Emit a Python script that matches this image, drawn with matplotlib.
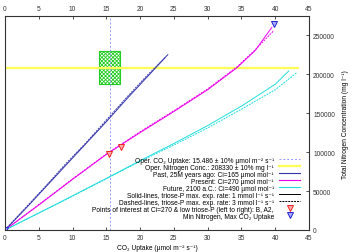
import numpy as np
import matplotlib.pyplot as plt
from matplotlib.patches import Rectangle
from matplotlib.lines import Line2D

plt.rcParams['font.family'] = ['Liberation Sans', 'DejaVu Sans']
plt.rcParams['hatch.linewidth'] = 0.6

# operating point
oper_co2 = 15.486
oper_n = 208330

# Past, Ci=165 (blue)
past_x = [0, 3, 6, 9, 12, 15, 18, 21, 24.1]
past_y = [0, 27000, 55000, 83000, 111000, 139000, 168000, 196000, 225000]
past_x_d = [0, 3, 6, 9, 12, 15, 18, 21, 23.8]
past_y_d = [0, 28000, 56000, 85000, 112000, 141000, 170000, 198000, 222000]

# Present, Ci=270 (magenta)
pres_x = [0, 5, 10, 15, 20, 25, 30, 34.3, 37, 39.5]
pres_y = [0, 32000, 65000, 97000, 125000, 152000, 180000, 208000, 230000, 260000]
pres_x_d = [0, 5, 10, 15, 20, 25, 30, 34.3, 37, 39.8]
pres_y_d = [0, 32500, 65500, 97500, 126000, 153000, 181000, 209000, 231000, 256000]

# Future, Ci=490 (cyan)
fut_x = [0, 8, 15.4, 20, 25, 30, 35, 40, 42.0]
fut_y = [0, 35000, 68000, 89000, 111000, 134000, 159000, 187000, 204000]
fut_x_d = [0, 8, 15.4, 20, 25, 30, 35, 40, 43.2]
fut_y_d = [0, 34500, 67500, 88000, 109000, 131000, 155000, 180000, 202000]

# points of interest
poi_x = [15.4, 17.1]
poi_y = [97000, 107000]
ext_x = [0, 39.8]
ext_y = [0, 264000]

fig = plt.figure(figsize=(3.52, 2.53), dpi=100)
ax = fig.add_axes([0.0142, 0.087, 0.8637, 0.844])

ax.axvline(oper_co2, color='#9999ff', lw=0.7, ls=(0, (2, 2)))
ax.plot([0, 43.3], [oper_n, oper_n], color='#ffff55', lw=1.6)
ax.add_patch(Rectangle((oper_co2 * 0.9, oper_n * 0.9), oper_co2 * 0.2, oper_n * 0.2,
                       facecolor='none', edgecolor='#22cc22', hatch='x' * 9, lw=0.8))

ax.plot(past_x, past_y, color='#3333aa', lw=0.7)
ax.plot(past_x_d, past_y_d, color='#3333aa', lw=0.7, ls=(0, (2, 1)))
ax.plot(pres_x, pres_y, color='#ee00ee', lw=0.7)
ax.plot(pres_x_d, pres_y_d, color='#ee00ee', lw=0.7, ls=(0, (2, 1)))
ax.plot(fut_x, fut_y, color='#22dddd', lw=0.7)
ax.plot(fut_x_d, fut_y_d, color='#22dddd', lw=0.7, ls=(0, (2, 1)))

ax.plot(poi_x, poi_y, 'v', ms=4, mfc='#ffaaaa', mec='#ee2222', mew=0.7)
ax.plot(ext_x, ext_y, 'v', ms=4, mfc='#aaaaff', mec='#2222cc', mew=0.7)

ax.set_xlim(0, 45)
ax.set_ylim(0, 274000)
ax.set_xticks(range(0, 46, 5))
ax.set_yticks(range(0, 250001, 50000))
ax.tick_params(direction='in', labelsize=4.8, length=2.5, width=0.6,
               top=True, labeltop=True, right=True, labelright=True,
               left=False, labelleft=False, pad=3, colors='#333333')
ax.yaxis.set_label_position('right')
ax.set_ylabel('Total Nitrogen Concentration (mg l⁻¹)', fontsize=4.8, labelpad=5)
ax.set_xlabel('CO₂ Uptake (µmol m⁻² s⁻¹)', fontsize=4.8, labelpad=2)
for s in ax.spines.values():
    s.set_color('#333333')
    s.set_linewidth(0.8)

handles = [
    Line2D([], [], color='#9999ff', lw=0.7, ls=(0, (2, 2))),
    Line2D([], [], color='#ffff55', lw=1.6),
    Line2D([], [], color='#3333aa', lw=0.8),
    Line2D([], [], color='#ee00ee', lw=0.8),
    Line2D([], [], color='#22dddd', lw=0.8),
    Line2D([], [], color='black', lw=0.7),
    Line2D([], [], color='black', lw=0.7, ls=(0, (2, 1))),
    Line2D([], [], ls='', marker='v', ms=4, mfc='#ffaaaa', mec='#ee2222', mew=0.7),
    Line2D([], [], ls='', marker='v', ms=4, mfc='#aaaaff', mec='#2222cc', mew=0.7),
]
labels = [
    'Oper. CO₂ Uptake: 15.486 ± 10% µmol m⁻² s⁻¹',
    'Oper. Nitrogen Conc.: 208330 ± 10% mg l⁻¹',
    'Past, 25M years ago: Ci=165 µmol mol⁻¹',
    'Present: Ci=270 µmol mol⁻¹',
    'Future, 2100 a.C.: Ci=490 µmol mol⁻¹',
    'Solid-lines, triose-P max. exp. rate: 1 mmol l⁻¹ s⁻¹',
    'Dashed-lines, triose-P max. exp. rate: 3 mmol l⁻¹ s⁻¹',
    'Points of interest at Ci=270 & low triose-P (left to right): B, A2,',
    'Min Nitrogen, Max CO₂ Uptake',
]
leg = ax.legend(handles, labels, loc='lower right', bbox_to_anchor=(0.985, 0.03),
                frameon=False, fontsize=4.8, markerfirst=False, handlelength=3.2,
                handletextpad=0.8, labelspacing=0.0, handleheight=0.5,
                borderpad=0.1)
for t in leg.get_texts():
    t.set_ha('right')

fig.savefig('out.png', dpi=100)
